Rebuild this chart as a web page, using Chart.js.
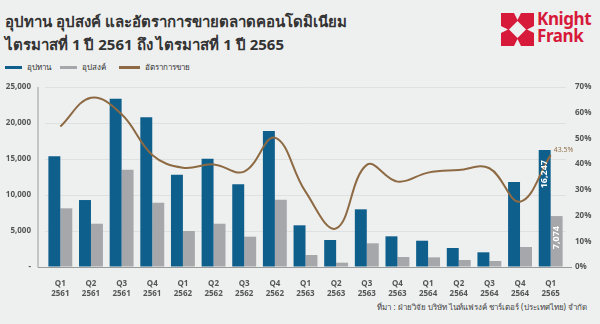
<!DOCTYPE html>
<html>
<head>
<meta charset="utf-8">
<script src="https://cdn.jsdelivr.net/npm/chart.js@4.4.1/dist/chart.umd.min.js"></script>
<style>
  body { margin: 0; background: #eef0ef; font-family: "Noto Sans", "DejaVu Sans", sans-serif; }
  #wrap { position: relative; width: 600px; height: 324px; overflow: hidden; }
  #chartBox { position: absolute; left: 0; top: 0; width: 600px; height: 324px; }
  .title { position: absolute; left: 5px; font-size: 15px; font-weight: bold; color: #333; white-space: nowrap; }
  .legend { position: absolute; top: 61px; left: 5px; font-size: 8px; color: #333; }
  .legend span.item { position: absolute; white-space: nowrap; line-height: 12px; }
  .legend span.sw { display: inline-block; width: 17px; height: 3px; vertical-align: middle; margin-right: 5px; }
  .logo { position: absolute; left: 501px; top: 13px; }
  .logo-text { position: absolute; left: 537px; top: 10px; color: #d7193a; font-size: 17px; font-weight: bold; line-height: 17px; letter-spacing: -0.4px; }
  .source { position: absolute; right: 13px; top: 301px; font-size: 8px; color: #444; white-space: nowrap; }
</style>
</head>
<body>
<div id="wrap">
  <div class="title" style="top:10px">อุปทาน อุปสงค์ และอัตราการขายตลาดคอนโดมิเนียม</div>
  <div class="title" style="top:33px">ไตรมาสที่ 1 ปี 2561 ถึง ไตรมาสที่ 1 ปี 2565</div>
  <div class="legend" id="legend"></div>
  <svg class="logo" width="33" height="33" viewBox="0 0 33 33">
    <rect x="0" y="0" width="33" height="33" fill="#d7193a"/>
    <polygon points="16.5,8 25,16.5 16.5,25 8,16.5" fill="#eef0ef"/>
    <polygon points="13,0 20,0 16.5,7" fill="#eef0ef"/>
    <polygon points="13,33 20,33 16.5,26" fill="#eef0ef"/>
    <polygon points="0,13 0,20 7,16.5" fill="#eef0ef"/>
    <polygon points="33,13 33,20 26,16.5" fill="#eef0ef"/>
  </svg>
  <div class="logo-text">Knight<br>Frank</div>
  <div class="source">ที่มา : ฝ่ายวิจัย บริษัท ไนท์แฟรงค์ ชาร์เตอร์ (ประเทศไทย) จำกัด</div>
  <div id="chartBox"><canvas id="chart"></canvas></div>
</div>
<script>
const quarters = ["Q1", "Q2", "Q3", "Q4", "Q1", "Q2", "Q3", "Q4", "Q1", "Q2", "Q3", "Q4", "Q1", "Q2", "Q3", "Q4", "Q1"];
const years = ["2561", "2561", "2561", "2561", "2562", "2562", "2562", "2562", "2563", "2563", "2563", "2563", "2564", "2564", "2564", "2564", "2565"];
const supply = [15380, 9300, 23380, 20790, 12820, 15040, 11480, 18890, 5790, 3750, 8010, 4260, 3650, 2640, 2040, 11800, 16247];
const demand = [8150, 6010, 13500, 8930, 5000, 6010, 4210, 9350, 1670, 600, 3290, 1390, 1340, 970, 830, 2780, 7074];
const salesRate = [54.6, 65.8, 59.4, 43.6, 38.6, 39.9, 37.1, 50.3, 29.3, 15.0, 39.7, 33.2, 36.7, 37.7, 38.4, 25.4, 43.5];

const labels = quarters.map((q, i) => [q, years[i]]);

const colBlue = "#0f5f8d";
const colGray = "#a6a7ab";
const colBrown = "#8d6a43";

// legend
const legendItems = [
  { text: "อุปทาน", color: colBlue, x: 0 },
  { text: "อุปสงค์", color: colGray, x: 55 },
  { text: "อัตราการขาย", color: colBrown, x: 114 },
];
const legendEl = document.getElementById("legend");
for (let item of legendItems) {
  const s = document.createElement("span");
  s.className = "item";
  s.style.left = item.x + "px";
  const sw = item.x === 114 ? 21 : 17;
  s.innerHTML = `<span class="sw" style="background:${item.color};width:${sw}px"></span>${item.text}`;
  legendEl.appendChild(s);
}

// axis lines drawn a bit outside the category band, like the original
const axisLines = {
  id: "axisLines",
  afterDraw(chart) {
    const { ctx, chartArea } = chart;
    ctx.save();
    ctx.strokeStyle = "#9a9c9c";
    ctx.lineWidth = 1;
    ctx.beginPath();
    ctx.moveTo(chartArea.left - 7, chartArea.top);
    ctx.lineTo(chartArea.left - 7, chartArea.bottom + 0.5);
    ctx.lineTo(chartArea.right + 6, chartArea.bottom + 0.5);
    ctx.stroke();
    ctx.restore();
  },
};

// value labels on the last quarter
const lastLabels = {
  id: "lastLabels",
  afterDatasetsDraw(chart) {
    const { ctx } = chart;
    const n = supply.length - 1;
    const barS = chart.getDatasetMeta(1).data[n];
    const barD = chart.getDatasetMeta(2).data[n];
    const pt = chart.getDatasetMeta(0).data[n];
    ctx.save();
    ctx.fillStyle = "#ffffff";
    ctx.font = "bold 9px 'Open Sans', sans-serif";
    ctx.textAlign = "right";
    ctx.textBaseline = "middle";
    for (let [bar, val] of [[barS, supply[n]], [barD, demand[n]]]) {
      ctx.save();
      ctx.translate(bar.x, bar.y + 10);
      ctx.rotate(-Math.PI / 2);
      ctx.fillText(val.toLocaleString("en-US"), 0, 0);
      ctx.restore();
    }
    ctx.fillStyle = colBrown;
    ctx.font = "7px 'Open Sans', sans-serif";
    ctx.textAlign = "left";
    ctx.textBaseline = "middle";
    ctx.fillText(salesRate[n].toFixed(1) + "%", pt.x + 3, pt.y - 5);
    ctx.restore();
  },
};

new Chart(document.getElementById("chart"), {
  data: {
    labels: labels,
    datasets: [
      {
        type: "line",
        label: "อัตราการขาย",
        data: salesRate,
        yAxisID: "y1",
        borderColor: colBrown,
        borderWidth: 2,
        pointRadius: 0,
        tension: 0.4,
        order: 0,
      },
      {
        type: "bar",
        label: "อุปทาน",
        data: supply,
        yAxisID: "y",
        backgroundColor: colBlue,
        categoryPercentage: 0.78,
        barPercentage: 1,
        order: 1,
      },
      {
        type: "bar",
        label: "อุปสงค์",
        data: demand,
        yAxisID: "y",
        backgroundColor: colGray,
        categoryPercentage: 0.78,
        barPercentage: 1,
        order: 2,
      },
    ],
  },
  options: {
    responsive: true,
    maintainAspectRatio: false,
    animation: false,
    layout: { padding: { top: 87, left: 0, right: 0, bottom: 0 } },
    plugins: {
      legend: { display: false },
      tooltip: { enabled: false },
    },
    scales: {
      x: {
        grid: { display: false },
        border: { display: false },
        ticks: {
          color: "#555",
          font: { family: "'Open Sans', sans-serif", size: 8, weight: "bold", lineHeight: 1.2 },
          padding: 4,
          maxRotation: 0,
          autoSkip: false,
        },
        afterFit: (s) => { s.height = 57; },
      },
      y: {
        position: "left",
        min: 0,
        max: 25000,
        grid: { color: "#dde1e1", drawTicks: false },
        border: { display: false },
        ticks: {
          stepSize: 5000,
          color: "#555",
          font: { family: "'Open Sans', sans-serif", size: 8, weight: "bold" },
          padding: 14,
          callback: (v) => (v === 0 ? "-" : v.toLocaleString("en-US")),
        },
        afterFit: (s) => { s.width = 45; },
      },
      y1: {
        position: "right",
        min: 0,
        max: 70,
        grid: { display: false, drawTicks: false },
        border: { display: false },
        ticks: {
          stepSize: 10,
          color: "#555",
          font: { family: "'Open Sans', sans-serif", size: 8, weight: "bold" },
          padding: 9,
          callback: (v) => v + "%",
        },
        afterFit: (s) => { s.width = 34; },
      },
    },
  },
  plugins: [axisLines, lastLabels],
});
</script>
</body>
</html>
